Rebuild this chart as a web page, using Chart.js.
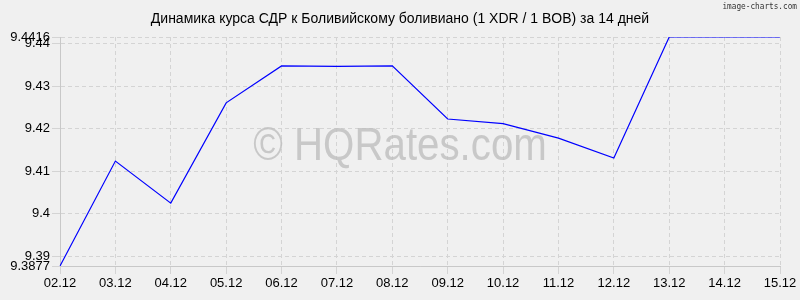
<!DOCTYPE html>
<html>
<head>
<meta charset="utf-8">
<script src="https://cdn.jsdelivr.net/npm/chart.js@4"></script>
<style>
  html, body { margin: 0; padding: 0; background: #f0f0f0; }
  #wrap { width: 800px; height: 300px; }
</style>
</head>
<body>
<div id="wrap"><canvas id="chart"></canvas></div>
<script>
const title = "Динамика курса СДР к Боливийскому боливиано (1 XDR / 1 BOB) за 14 дней";
const dates = ["02.12", "03.12", "04.12", "05.12", "06.12", "07.12", "08.12",
  "09.12", "10.12", "11.12", "12.12", "13.12", "14.12", "15.12"];
const rates = [9.3877, 9.4124, 9.4025, 9.4261, 9.4348, 9.4347, 9.4348,
  9.4223, 9.4212, 9.4178, 9.4131, 9.4416, 9.4416, 9.4416];
const yTicks = [9.3877, 9.39, 9.40, 9.41, 9.42, 9.43, 9.44, 9.4416];
const yMin = 9.3877;
const yMax = 9.4416;

const font = "'Liberation Sans', Arial, sans-serif";

const overlay = {
  id: "overlay",
  beforeDatasetsDraw(chart) {
    const { ctx, chartArea } = chart;
    ctx.save();
    ctx.fillStyle = "rgba(190,190,190,0.8)";
    ctx.font = `46px ${font}`;
    ctx.textAlign = "center";
    ctx.textBaseline = "middle";
    ctx.translate((chartArea.left + chartArea.right) / 2 - 20, 147);
    ctx.scale(0.875, 1);
    ctx.fillText("© HQRates.com", 0, 0);
    ctx.restore();
  },
  afterDraw(chart) {
    const { ctx } = chart;
    ctx.save();
    ctx.fillStyle = "#000";
    ctx.font = `14px ${font}`;
    ctx.textAlign = "center";
    ctx.textBaseline = "middle";
    ctx.fillText(title, 400, 19);
    // small credit in the corner, narrower than the mono font
    ctx.fillStyle = "#333";
    ctx.font = "9px 'DejaVu Sans Mono', monospace";
    ctx.textAlign = "right";
    ctx.translate(797, 7);
    ctx.scale(0.86, 1);
    ctx.fillText("image-charts.com", 0, 0);
    ctx.restore();
  }
};

const gridStyle = {
  color: "#d4d4d4",
  lineWidth: 1,
  tickLength: 8,
  tickColor: "#d4d4d4"
};

new Chart(document.getElementById("chart"), {
  type: "line",
  data: {
    labels: dates,
    datasets: [{
      data: rates,
      borderColor: "#0000ff",
      borderWidth: 1.2,
      pointRadius: 0,
      tension: 0,
      fill: false
    }]
  },
  options: {
    responsive: true,
    maintainAspectRatio: false,
    animation: false,
    layout: { padding: { left: 0, right: 20, top: 37, bottom: 0 } },
    plugins: {
      legend: { display: false },
      tooltip: { enabled: false }
    },
    scales: {
      x: {
        type: "category",
        offset: false,
        grid: gridStyle,
        border: { display: true, color: "#c8c8c8", dash: [4, 3] },
        ticks: {
          color: "#000",
          font: { family: font, size: 13 },
          maxRotation: 0,
          autoSkip: false,
          padding: 2
        },
        afterFit(scale) { scale.height = 34; }
      },
      y: {
        min: yMin,
        max: yMax,
        grid: gridStyle,
        border: { display: true, color: "#c8c8c8", dash: [4, 3] },
        afterBuildTicks(scale) {
          scale.ticks = yTicks.map(v => ({ value: v }));
        },
        ticks: {
          color: "#000",
          font: { family: font, size: 13 },
          autoSkip: false,
          padding: 2,
          callback: v => String(+v.toFixed(4))
        },
        afterFit(scale) { scale.width = 60; }
      }
    }
  },
  plugins: [overlay]
});
</script>
</body>
</html>
